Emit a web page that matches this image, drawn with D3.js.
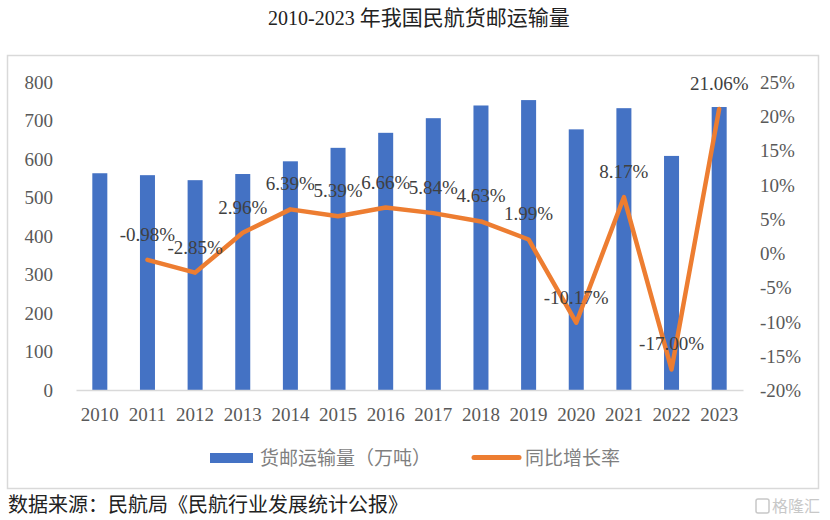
<!DOCTYPE html>
<html>
<head>
<meta charset="utf-8">
<script src="https://cdn.jsdelivr.net/npm/d3@7"></script>
<style>
  html, body { margin: 0; padding: 0; background: #fff; }
  svg { display: block; }
</style>
</head>
<body>
<svg id="chart" width="830" height="520"></svg>
<script>
const years = ['2010','2011','2012','2013','2014','2015','2016','2017','2018','2019','2020','2021','2022','2023'];
const cargo = [563, 558, 545, 561, 594, 629, 668, 706, 739, 753, 677, 732, 608, 735];
const growth = [null, -0.98, -2.85, 2.96, 6.39, 5.39, 6.66, 5.84, 4.63, 1.99, -10.17, 8.17, -17.00, 21.06];
const leftTicks = [0, 100, 200, 300, 400, 500, 600, 700, 800];
const rightTicks = [-20, -15, -10, -5, 0, 5, 10, 15, 20, 25];
const titleNum = '2010-2023 ';
const titleCJK = '年我国民航货邮运输量';
const legendBar = '货邮运输量（万吨）';
const legendLine = '同比增长率';
const sourceText = '数据来源：民航局《民航行业发展统计公报》';
const watermark = '格隆汇';

const serif = '"Liberation Serif", "Times New Roman", "Noto Sans CJK SC", serif';
const cjk = '"Noto Sans CJK SC", "Liberation Serif", sans-serif';

const svg = d3.select('#chart');

// Title
const title = svg.append('text').attr('x', 268).attr('y', 25)
  .attr('fill', '#222').attr('font-family', serif).attr('font-size', 20);
title.append('tspan').text(titleNum);
title.append('tspan').attr('font-family', cjk).attr('font-size', 21).text(titleCJK);

// Frame
svg.append('rect').attr('x', 7.5).attr('y', 55.5).attr('width', 811).attr('height', 433)
  .attr('fill', 'none').attr('stroke', '#d9d9d9').attr('stroke-width', 1.5);

const x = d3.scaleBand().domain(years).range([76, 743]).paddingInner(0.685).paddingOuter(0.3425);
const yL = d3.scaleLinear().domain([0, 800]).range([390, 82]);
const yR = d3.scaleLinear().domain([-20, 25]).range([390, 82]);

// Bars
svg.append('g').selectAll('rect').data(years).join('rect')
  .attr('x', d => x(d))
  .attr('y', (d, i) => yL(cargo[i]))
  .attr('width', x.bandwidth())
  .attr('height', (d, i) => yL(0) - yL(cargo[i]))
  .attr('fill', '#4472C4');

// Baseline axis line
const xAxis = d3.axisBottom(x).tickSize(0).tickPadding(0);
const gx = svg.append('g').attr('transform', `translate(0,${yL(0)})`).call(xAxis);
gx.select('.domain').attr('stroke', '#d9d9d9').attr('stroke-width', 1.5);
gx.selectAll('text').attr('font-family', serif).attr('font-size', 19).attr('fill', '#595959')
  .attr('dy', 0).attr('y', 31);

// Left axis
const gl = svg.append('g').attr('transform', 'translate(53,0)')
  .call(d3.axisLeft(yL).tickValues(leftTicks).tickSize(0).tickPadding(0));
gl.select('.domain').remove();
gl.selectAll('text').attr('font-family', serif).attr('font-size', 19).attr('fill', '#595959')
  .attr('dy', '0.34em');

// Right axis
const gr = svg.append('g').attr('transform', 'translate(760,0)')
  .call(d3.axisRight(yR).tickValues(rightTicks).tickSize(0).tickPadding(0).tickFormat(d => d + '%'));
gr.select('.domain').remove();
gr.selectAll('text').attr('font-family', serif).attr('font-size', 19).attr('fill', '#595959')
  .attr('dy', '0.34em');

// Line
const pts = years.map((d, i) => ({ year: d, v: growth[i] })).filter(p => p.v !== null);
const line = d3.line().x(p => x(p.year) + x.bandwidth() / 2).y(p => yR(p.v));
svg.append('path').datum(pts).attr('d', line)
  .attr('fill', 'none').attr('stroke', '#ED7D31').attr('stroke-width', 4.5)
  .attr('stroke-linejoin', 'round').attr('stroke-linecap', 'round');

// Data labels
svg.append('g').selectAll('text').data(pts).join('text')
  .attr('x', p => x(p.year) + x.bandwidth() / 2)
  .attr('y', p => yR(p.v) - 19)
  .attr('text-anchor', 'middle')
  .attr('font-family', serif).attr('font-size', 19).attr('fill', '#404040')
  .text(p => p.v.toFixed(2) + '%');

// Legend
svg.append('rect').attr('x', 210).attr('y', 453).attr('width', 43).attr('height', 10).attr('fill', '#4472C4');
svg.append('text').attr('x', 260).attr('y', 465).attr('font-family', cjk).attr('font-size', 19)
  .attr('fill', '#7f7f7f').text(legendBar);
svg.append('line').attr('x1', 474).attr('x2', 519).attr('y1', 457.5).attr('y2', 457.5)
  .attr('stroke', '#ED7D31').attr('stroke-width', 5).attr('stroke-linecap', 'round');
svg.append('text').attr('x', 525).attr('y', 465).attr('font-family', cjk).attr('font-size', 19)
  .attr('fill', '#7f7f7f').text(legendLine);

// Source
svg.append('text').attr('x', 8).attr('y', 512).attr('font-family', cjk).attr('font-size', 20)
  .attr('fill', '#222').text(sourceText);

// Watermark
svg.append('rect').attr('x', 756).attr('y', 499).attr('width', 13).attr('height', 14).attr('rx', 2)
  .attr('fill', 'none').attr('stroke', '#c8c8c8').attr('stroke-width', 1.5);
svg.append('text').attr('x', 772).attr('y', 512).attr('font-family', cjk).attr('font-size', 16)
  .attr('fill', '#c8c8c8').text(watermark);
</script>
</body>
</html>
